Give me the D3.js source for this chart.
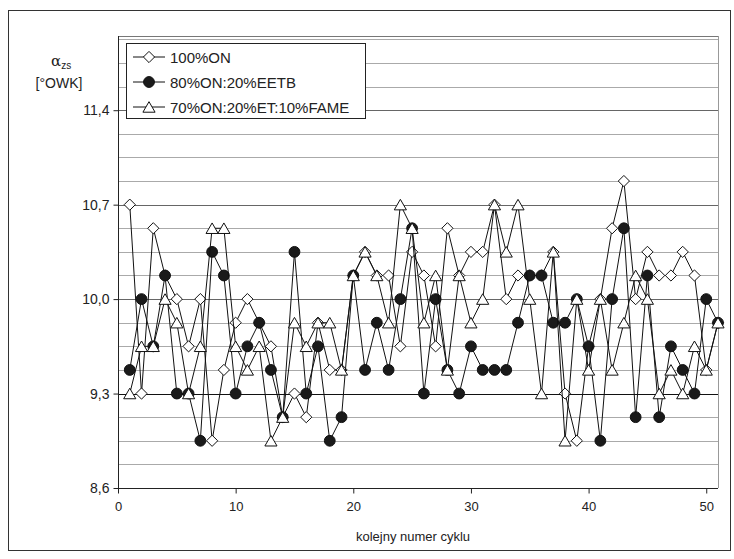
<!DOCTYPE html>
<html><head><meta charset="utf-8">
<script src="https://cdn.jsdelivr.net/npm/d3@7"></script>
<style>
html,body{margin:0;padding:0;background:#fff;}
text{font-family:"Liberation Sans",Arial,sans-serif;fill:#222;}
</style></head>
<body>
<svg id="chart" width="734" height="559"></svg>
<script>
// ---- data ----
const cycles = d3.range(1, 52);
const seriesNames = ["100%ON", "80%ON:20%EETB", "70%ON:20%ET:10%FAME"];
const on100 = [10.7, 9.3, 10.525, 10.175, 10.0, 9.65, 10.0, 8.95, 9.475, 9.825,
  10.0, 9.825, 9.65, 9.125, 9.3, 9.125, 9.825, 9.475, 9.475, 10.175,
  10.35, 10.175, 10.175, 9.65, 10.35, 10.175, 9.65, 10.525, 10.175, 10.35,
  10.35, 10.7, 10.0, 10.175, 10.175, 10.175, 10.35, 9.3, 8.95, 9.65,
  10.0, 10.525, 10.875, 10.0, 10.35, 10.175, 10.175, 10.35, 10.175, 9.475, 9.825];
const on80eetb = [9.475, 10.0, 9.65, 10.175, 9.3, 9.3, 8.95, 10.35, 10.175, 9.3,
  9.65, 9.825, 9.475, 9.125, 10.35, 9.3, 9.65, 8.95, 9.125, 10.175,
  9.475, 9.825, 9.475, 10.0, 10.525, 9.3, 10.0, 9.475, 9.3, 9.65,
  9.475, 9.475, 9.475, 9.825, 10.175, 10.175, 9.825, 9.825, 10.0, 9.65,
  8.95, 10.0, 10.525, 9.125, 10.175, 9.125, 9.65, 9.475, 9.3, 10.0, 9.825];
const on70fame = [9.3, 9.65, 9.65, 10.0, 9.825, 9.3, 9.65, 10.525, 10.525, 9.65,
  9.475, 9.65, 8.95, 9.125, 9.825, 9.65, 9.825, 9.825, 9.475, 10.175,
  10.35, 10.175, 9.825, 10.7, 10.525, 9.825, 10.175, 9.475, 10.175, 9.825,
  10.0, 10.7, 10.35, 10.7, 10.0, 9.3, 10.35, 8.95, 10.0, 9.475,
  10.0, 9.475, 9.825, 10.175, 10.0, 9.3, 9.475, 9.3, 9.65, 9.475, 9.825];
const yTicks = [8.6, 9.3, 10.0, 10.7, 11.4];
const yTickLabels = ["8,6", "9,3", "10,0", "10,7", "11,4"];
const xTicks = [0, 10, 20, 30, 40, 50];
const yMinorStep = 0.175;

// ---- layout ----
const svg = d3.select("#chart");
const L = 118, R = 718, T = 36, B = 488;
const x = d3.scaleLinear().domain([0, 51]).range([L, R]);
const y = d3.scaleLinear().domain([8.6, 11.95]).range([B, T]);

// outer frame
svg.append("rect").attr("x", 8.5).attr("y", 10.5).attr("width", 722).attr("height", 540)
  .attr("fill", "#fff").attr("stroke", "#333").attr("stroke-width", 1);

// gridlines
const minor = d3.range(0, 20).map(k => +(8.6 + k * yMinorStep).toFixed(3)).filter(v => v > 8.6 && v < 11.95);
svg.append("g").selectAll("line").data(minor).join("line")
  .attr("x1", L).attr("x2", R)
  .attr("y1", d => Math.round(y(d)) + 0.5).attr("y2", d => Math.round(y(d)) + 0.5)
  .attr("stroke", d => (Math.abs(d - 9.3) < 1e-6 ? "#111" : (yTicks.some(t => Math.abs(t - d) < 1e-6) ? "#666" : "#aaa")))
  .attr("stroke-width", 1);

// plot border top/right
svg.append("line").attr("x1", L).attr("x2", R + 0.5).attr("y1", T + 0.5).attr("y2", T + 0.5).attr("stroke", "#777");
svg.append("line").attr("x1", R + 0.5).attr("x2", R + 0.5).attr("y1", T).attr("y2", B).attr("stroke", "#999");

// axes
const yAxis = d3.axisLeft(y).tickValues(yTicks).tickFormat((d, i) => yTickLabels[i]).tickSize(5).tickPadding(4);
const gy = svg.append("g").attr("transform", `translate(${L + 0.5},0)`).call(yAxis);
const xAxis = d3.axisBottom(x).tickValues(xTicks).tickFormat(d3.format("d")).tickSize(5).tickPadding(8);
const gx = svg.append("g").attr("transform", `translate(0,${B + 0.5})`).call(xAxis);
[gy, gx].forEach(g => {
  g.select(".domain").attr("stroke", "#222");
  g.selectAll(".tick line").attr("stroke", "#222");
  g.selectAll("text").attr("font-family", "Liberation Sans, Arial, sans-serif").attr("fill", "#222");
});
gy.selectAll("text").attr("font-size", 14);
gx.selectAll("text").attr("font-size", 13);
gy.select(".domain").attr("d", `M0,${T}V${B}`);
gx.select(".domain").attr("d", `M${L},0H${R}`);

// axis titles
svg.append("text").attr("x", 413).attr("y", 541).attr("text-anchor", "middle")
  .attr("font-size", 13).text("kolejny numer cyklu");
const at = svg.append("text").attr("x", 51).attr("y", 66).attr("font-size", 15);
at.append("tspan").attr("font-family", "DejaVu Serif, serif").text("α");
at.append("tspan").attr("font-size", 10).attr("dy", 3).text("zs");
svg.append("text").attr("x", 59).attr("y", 88).attr("text-anchor", "middle")
  .attr("font-size", 14).text("[°OWK]");

// series
const shapes = [d3.symbolDiamond2, d3.symbolCircle, d3.symbolTriangle];
const sizes = [80, 92, 64];
const dy = [0, 0, 1.7];
const fills = ["#fff", "#1a1a1a", "#fff"];
const allSeries = [on100, on80eetb, on70fame];
const line = d3.line().x((d, i) => x(cycles[i])).y(d => y(d));
allSeries.forEach((vals, s) => {
  const g = svg.append("g");
  g.append("path").attr("d", line(vals)).attr("fill", "none").attr("stroke", "#111").attr("stroke-width", 1);
  g.selectAll("path.m").data(vals).join("path").attr("class", "m")
    .attr("transform", (d, i) => `translate(${x(cycles[i])},${y(d) + dy[s]})`)
    .attr("d", d3.symbol().type(shapes[s]).size(sizes[s]))
    .attr("fill", fills[s]).attr("stroke", "#111").attr("stroke-width", 1);
});

// legend
const lg = svg.append("g");
lg.append("rect").attr("x", 126.5).attr("y", 43.5).attr("width", 239).attr("height", 75)
  .attr("fill", "#fff").attr("stroke", "#222");
seriesNames.forEach((n, s) => {
  const yy = 57 + s * 25;
  lg.append("line").attr("x1", 133).attr("x2", 165).attr("y1", yy).attr("y2", yy).attr("stroke", "#111");
  lg.append("path").attr("transform", `translate(149,${yy + dy[s]})`)
    .attr("d", d3.symbol().type(shapes[s]).size(sizes[s]))
    .attr("fill", fills[s]).attr("stroke", "#111");
  lg.append("text").attr("x", 170).attr("y", yy + 5.5).attr("font-size", 15).text(n);
});
</script>
</body></html>
